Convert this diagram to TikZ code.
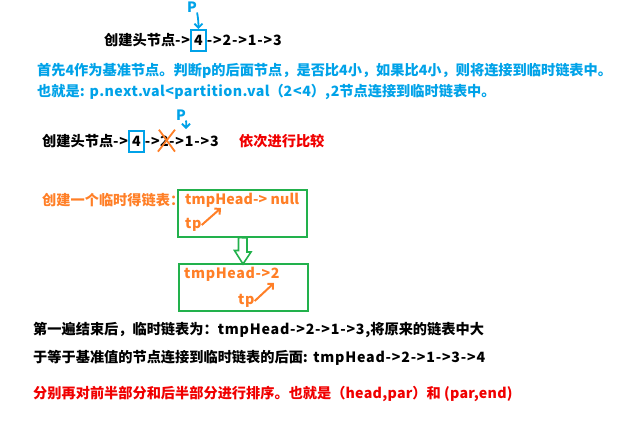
\documentclass[tikz,border=0pt]{standalone}
\usepackage{fontspec}
\setmainfont{Noto Sans CJK SC}
\newcommand{\en}[2][4.5]{{\addfontfeatures{LetterSpace=#1}#2}}
\usetikzlibrary{arrows.meta,positioning}

\definecolor{paintblue}{RGB}{0,162,232}
\definecolor{paintorange}{RGB}{255,127,39}
\definecolor{paintgreen}{RGB}{34,177,76}
\definecolor{paintred}{RGB}{240,0,0}

\tikzset{
  txt/.style={inner sep=0pt, anchor=west, font=\bfseries\fontsize{14.2}{16}\selectfont},
  numbox/.style={txt, draw=paintblue, line width=1.6pt, inner xsep=3pt, minimum height=21pt},
  ptxt/.style={txt, anchor=center, text=paintblue},
  parrow/.style={paintblue, line width=1.8pt, -{Straight Barb[length=4pt,width=8pt]}},
  tparrow/.style={paintorange, line width=2pt, -{Straight Barb[length=4pt,width=8pt]}},
  listbox/.style={draw=paintgreen, line width=2pt, minimum width=129pt, minimum height=47pt},
}

\begin{document}
\begin{tikzpicture}[x=1pt,y=-1pt]
  \useasboundingbox (0,0) rectangle (642,432);

  % first list
  \node[txt] (l1a) at (104,40) {创建头节点\en[6]{->}};
  \node[numbox, anchor=base west] (l1b) at (l1a.base east) {\en{4}};
  \node[txt, anchor=base west] (l1c) at (l1b.base east) {\en[6]{->2->1->3}};
  \node[ptxt] (p1) at (192,7) {P};
  \draw[parrow] (p1.south east) to[out=-80,in=90] (l1b.north);

  % explanation
  \node[txt, text=paintblue] (t1) at (37,71) {首先\en{4}作为基准节点。判断\en{p}的后面节点，是否比\en{4}小，如果比\en{4}小，则将连接到临时链表中。};
  \node[txt, text=paintblue] (t2) at (37,92) {也就是\en[3]{: p.next.val<partition.val}（\en{2<4}）\en{,2}节点连接到临时链表中。};

  % second list
  \node[txt] (l4a) at (42,141) {创建头节点\en[6]{->}};
  \node[numbox, anchor=base west] (l4b) at (l4a.base east) {\en{4}};
  \node[txt, anchor=base west] (l4c) at (l4b.base east) {\en[6]{->}};
  \node[txt, anchor=base west] (l4d) at (l4c.base east) {2};
  \node[txt, anchor=base west] (l4e) at (l4d.base east) {\en[6]{->1->3}};
  \draw[paintorange, line width=1.8pt] ([shift={(-1,-6)}]l4d.north west) -- ([shift={(6,5)}]l4d.south east);
  \draw[paintorange, line width=1.8pt] ([shift={(6,-6)}]l4d.north east) -- ([shift={(-2,5)}]l4d.south west);
  \node[ptxt] (p2) at (181,115) {P};
  \node[txt, text=paintred] (cmp) at (239,141) {依次进行比较};
  \coordinate (p2end) at (186,129);
  \draw[parrow] (p2.south east) to[out=-80,in=90] (p2end);

  % temporary list
  \node[txt, text=paintorange] (mk) at (42,200) {创建一个临时得链表：};
  \node[listbox] (box1) at (242.5,213) {};
  \node[txt, text=paintorange] (h1) at (185,200) {\en[1]{tmpHead-> null}};
  \node[txt, text=paintorange] (tp1) at (185,225) {\en{tp}};
  \coordinate (tp1end) at (221,208);
  \draw[tparrow] (tp1.east) -- (tp1end);

  \node[listbox] (box2) at (243,287.5) {};
  \node[txt, text=paintorange] (h2) at (184,274) {\en{tmpHead->2}};
  \node[txt, text=paintorange] (tp2) at (238,301) {\en{tp}};
  \coordinate (tp2end) at (274,283);
  \draw[tparrow] (tp2.east) -- (tp2end);

  \draw[paintgreen, line width=1.6pt] ([xshift=-4]box1.south) -- ++(0,13) -- ++(-4,0)
    -- ([yshift=-1]box2.north) -- ++(8,-12) -- ++(-4,0) -- ++(0,-14) -- cycle;

  % result
  \node[txt] (r1) at (33,330) {第一遍结束后，临时链表为：\en[5.5]{tmpHead->2->1->3,}将原来的链表中大};
  \node[txt] (r2) at (33,358) {于等于基准值的节点连接到临时链表的后面\en[5.5]{: tmpHead->2->1->3->4}};
  \node[txt, text=paintred] (r3) at (33,394) {分别再对前半部分和后半部分进行排序。也就是（\en[2]{head,par}）和 \en[2]{(par,end)}};
\end{tikzpicture}
\end{document}
